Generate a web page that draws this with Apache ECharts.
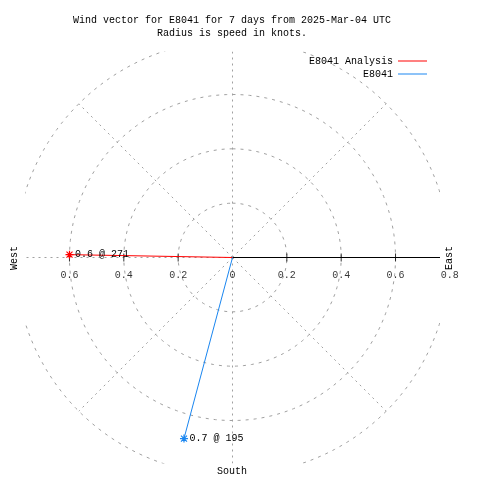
<!DOCTYPE html>
<html>
<head>
<meta charset="utf-8">
<script src="https://cdn.jsdelivr.net/npm/echarts@6/dist/echarts.min.js"></script>
<style>
html,body{margin:0;padding:0;background:#fff;}
#chart{width:480px;height:480px;}
</style>
</head>
<body>
<div id="chart"></div>
<script>
// ---- data ----
const titleLines = ['Wind vector for E8041 for 7 days from 2025-Mar-04 UTC', 'Radius is speed in knots.'];
const seriesNames = ['E8041 Analysis', 'E8041'];
const seriesSpeeds = [0.6, 0.69];       // knots
const seriesDirections = [271, 195];     // degrees (compass)
const seriesLabels = ['0.6 @ 271', '0.7 @ 195'];
const seriesColors = ['#ff0000', '#1a86f0'];
const ringRadii = [0.2, 0.4, 0.6, 0.8];
const spokeAngles = [0, 45, 135, 180, 225, 270, 315];
const leftTicks = [-0.6, -0.4, -0.2, 0];
const leftTickLabels = ['0.6', '0.4', '0.2', '0'];
const rightTicks = [0, 0.2, 0.4, 0.6, 0.8];
const rightTickLabels = ['0', '0.2', '0.4', '0.6', '0.8'];
const tickMarks = [-0.6, -0.4, -0.2, 0.2, 0.4, 0.6];
const compassWords = ['West', 'East', 'South'];

const FONT = 'Liberation Mono';
const FS = 10;
const RMAX = 0.8;
const XR = 0.760, YR = 0.7563;

function toXY(s, deg) {
  const a = deg * Math.PI / 180;
  return [s * Math.sin(a), s * Math.cos(a)];
}

const gridSeries = [];
ringRadii.forEach(r => {
  const pts = [];
  for (let d = 0; d <= 360; d += 2) pts.push(toXY(r, d));
  gridSeries.push({
    type: 'line', data: pts, symbol: 'none', silent: true, clip: true,
    lineStyle: { color: '#a0a0a0', width: 1, type: [3, 5] }, z: 1
  });
});
spokeAngles.forEach(a => {
  gridSeries.push({
    type: 'line', data: [[0, 0], toXY(RMAX, a)], symbol: 'none', silent: true, clip: true,
    lineStyle: { color: '#a0a0a0', width: 1, type: [2, 4] }, z: 1
  });
});
// solid radial axis to the right
gridSeries.push({
  type: 'line', data: [[0, 0], [RMAX, 0]], symbol: 'none', silent: true, clip: true,
  lineStyle: { color: '#000', width: 1 }, z: 2
});
// tick marks
gridSeries.push({
  type: 'scatter', data: tickMarks.map(v => [v, 0]), symbol: 'rect', symbolSize: [1, 8],
  itemStyle: { color: '#000' }, silent: true, z: 2
});
// tick labels
function labelSeries(vals, texts) {
  return {
    type: 'scatter', data: vals.map((v, i) => ({ value: [v, 0], name: texts[i] })),
    symbolSize: 0, silent: true, clip: false, z: 3,
    label: { show: true, position: 'bottom', distance: 13, formatter: p => p.name,
      fontFamily: FONT, fontSize: FS, color: '#000' }
  };
}
gridSeries.push(labelSeries(leftTicks, leftTickLabels));
gridSeries.push(labelSeries(rightTicks.slice(1), rightTickLabels.slice(1)));

const star = 'path://M0,-4L0,4M-4,0L4,0M-3,-3L3,3M-3,3L3,-3';
const dataSeries = seriesNames.map((name, i) => {
  const end = toXY(seriesSpeeds[i], seriesDirections[i]);
  return {
    type: 'line', name: name, z: 5,
    data: [
      { value: [0, 0], symbol: 'none' },
      { value: end, symbol: star, symbolSize: 8,
        label: { show: true, position: 'right', distance: 1, formatter: seriesLabels[i],
          fontFamily: FONT, fontSize: FS, color: '#000' } }
    ],
    itemStyle: { color: 'rgba(0,0,0,0)', borderColor: seriesColors[i], borderWidth: 1.2 },
    lineStyle: { color: seriesColors[i], width: 1 },
    color: seriesColors[i]
  };
});

const chart = echarts.init(document.getElementById('chart'), null, { renderer: 'canvas' });
chart.setOption({
  animation: false,
  backgroundColor: '#fff',
  title: {
    text: titleLines.join('\n'), left: 232, top: 14, textAlign: 'center', padding: 0,
    textStyle: { fontFamily: FONT, fontSize: FS, fontWeight: 'normal', color: '#000', lineHeight: 13 }
  },
  legend: seriesNames.map((n, i) => ({
    data: [{ name: n, icon: 'rect', itemStyle: { color: seriesColors[i], borderWidth: 0, opacity: 1 } }],
    right: 53, top: 56 + i * 13, align: 'right', padding: 0,
    itemWidth: 29, itemHeight: 1,
    textStyle: { fontFamily: FONT, fontSize: FS, color: '#000' }
  })),
  grid: { left: 26, top: 52, width: 413, height: 411, containLabel: false },
  xAxis: { type: 'value', min: -XR, max: XR, show: false },
  yAxis: { type: 'value', min: -YR, max: YR, show: false },
  graphic: [
    { type: 'text', x: 14, y: 258, rotation: Math.PI / 2,
      style: { text: compassWords[0], font: FS + 'px ' + FONT, fill: '#000', align: 'center', verticalAlign: 'middle' } },
    { type: 'text', x: 449, y: 258, rotation: Math.PI / 2,
      style: { text: compassWords[1], font: FS + 'px ' + FONT, fill: '#000', align: 'center', verticalAlign: 'middle' } },
    { type: 'text', x: 232, y: 471,
      style: { text: compassWords[2], font: FS + 'px ' + FONT, fill: '#000', align: 'center', verticalAlign: 'middle' } }
  ],
  series: gridSeries.concat(dataSeries)
});
</script>
</body>
</html>
